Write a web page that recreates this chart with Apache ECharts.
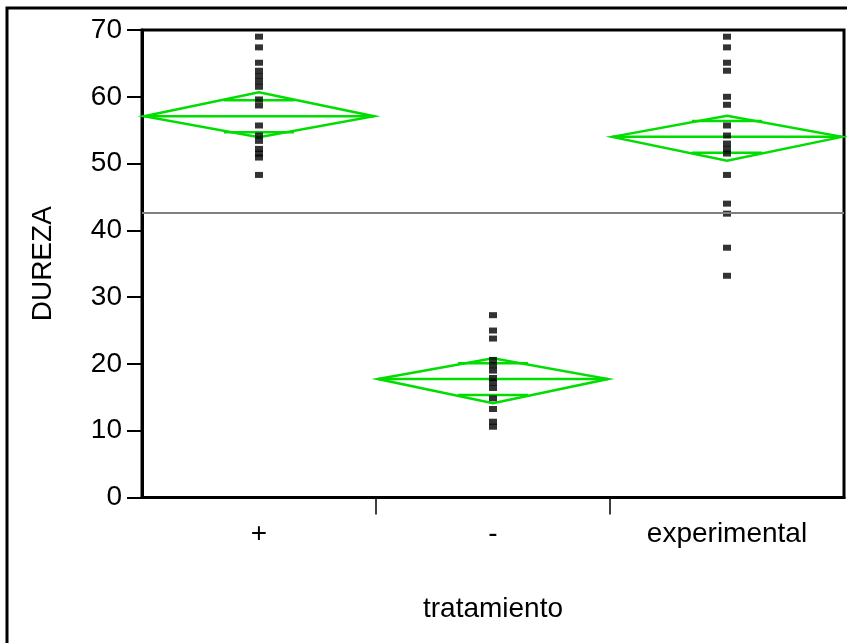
<!DOCTYPE html>
<html>
<head>
<meta charset="utf-8">
<script src="https://cdn.jsdelivr.net/npm/echarts@6/dist/echarts.min.js"></script>
<style>html,body{margin:0;padding:0;background:#fff;}#c{width:847px;height:643px;}</style>
</head>
<body>
<div id="c"></div>
<script>
// ---- data ----
const categories = ['+', '-', 'experimental'];
const yTicks = [0, 10, 20, 30, 40, 50, 60, 70];
const pointsPlus = [69.0, 67.4, 65.1, 63.9, 63.1, 62.3, 61.5, 59.6, 58.7, 55.7, 54.2, 53.4, 52.2, 51.5, 50.9, 48.3];
const pointsMinus = [27.3, 25.0, 23.8, 20.6, 19.8, 19.0, 17.9, 17.2, 16.4, 14.85, 13.25, 11.35, 10.6];
const pointsExperimental = [69.0, 67.4, 65.1, 63.9, 60.0, 58.8, 55.7, 54.2, 53.0, 52.2, 51.5, 48.3, 44.0, 42.5, 37.4, 33.2];
const groupMeans = [57.1, 17.74, 54.0];
const ciUpper = [60.67, 20.84, 57.16];
const ciLower = [53.93, 14.1, 50.43];
const overlapUpper = [59.5, 20.09, 56.37];
const overlapLower = [54.7, 15.35, 51.62];
const grandMean = 42.6;
const boundaryTicks = [1, 2];

const GREEN = '#00dd00';
const FONT = 'Liberation Sans, Arial, sans-serif';

const scatterData = [];
[pointsPlus, pointsMinus, pointsExperimental].forEach((arr, i) => {
  arr.forEach(v => scatterData.push([i, v]));
});
const diamondData = groupMeans.map((m, i) => [i, m, ciLower[i], ciUpper[i], overlapLower[i], overlapUpper[i]]);

const chart = echarts.init(document.getElementById('c'), null, {renderer: 'canvas'});
chart.setOption({
  animation: false,
  backgroundColor: '#fff',
  graphic: [{
    type: 'rect', z: -1, silent: true,
    shape: {x: 7, y: 8, width: 900, height: 700},
    style: {fill: 'none', stroke: '#000', lineWidth: 3}
  }],
  grid: {left: 142, right: 3, top: 30, bottom: 145.5, show: true, borderColor: '#000', borderWidth: 3, backgroundColor: 'transparent'},
  xAxis: [{
    type: 'category', data: categories, boundaryGap: true,
    axisLine: {show: true, lineStyle: {color: '#000', width: 3}},
    axisTick: {show: false},
    axisLabel: {color: '#000', fontSize: 28, fontFamily: FONT, margin: 23},
    name: 'tratamiento', nameLocation: 'middle', nameGap: 98,
    nameTextStyle: {color: '#000', fontSize: 28, fontFamily: FONT},
    splitLine: {show: false}
  }, {
    type: 'value', min: 0, max: 3, position: 'bottom',
    axisLine: {show: false},
    axisTick: {show: true, customValues: boundaryTicks, length: 17, inside: false, lineStyle: {color: '#000', width: 1.5}},
    axisLabel: {show: false},
    splitLine: {show: false}
  }],
  yAxis: {
    type: 'value', min: 0, max: 70, interval: 10,
    axisLine: {show: true, lineStyle: {color: '#000', width: 3}},
    axisTick: {show: true, length: 15, inside: false, lineStyle: {color: '#000', width: 2}},
    axisLabel: {color: '#000', fontSize: 28, fontFamily: FONT, margin: 20,
      customValues: yTicks},
    splitLine: {show: false},
    name: 'DUREZA', nameLocation: 'middle', nameGap: 85, nameRotate: 90,
    nameTextStyle: {color: '#000', fontSize: 28, fontFamily: FONT}
  },
  series: [{
    type: 'custom',
    xAxisIndex: 0,
    data: diamondData,
    z: 3,
    renderItem: function (params, api) {
      const idx = api.value(0);
      const c = api.coord([idx, api.value(1)]);
      const lo = api.coord([idx, api.value(2)]);
      const hi = api.coord([idx, api.value(3)]);
      const olo = api.coord([idx, api.value(4)]);
      const ohi = api.coord([idx, api.value(5)]);
      const bw = api.size([1, 0])[0];
      const half = bw / 2 - 2;
      const ow = bw * 0.15;
      const st = {stroke: GREEN, lineWidth: 2.5, fill: 'none'};
      return {
        type: 'group',
        children: [
          {type: 'polygon', shape: {points: [[c[0] - half, c[1]], [c[0], hi[1]], [c[0] + half, c[1]], [c[0], lo[1]]]}, style: st},
          {type: 'line', shape: {x1: c[0] - half, y1: c[1], x2: c[0] + half, y2: c[1]}, style: st},
          {type: 'line', shape: {x1: c[0] - ow, y1: ohi[1], x2: c[0] + ow, y2: ohi[1]}, style: st},
          {type: 'line', shape: {x1: c[0] - ow, y1: olo[1], x2: c[0] + ow, y2: olo[1]}, style: st}
        ]
      };
    }
  }, {
    type: 'scatter',
    xAxisIndex: 0,
    data: scatterData,
    symbol: 'rect',
    symbolSize: [8, 6],
    itemStyle: {color: '#000'},
    z: 4,
    markLine: {
      silent: true, symbol: 'none', label: {show: false},
      lineStyle: {color: '#808080', width: 2, type: 'solid'},
      data: [{yAxis: grandMean}]
    }
  }]
});
</script>
</body>
</html>
